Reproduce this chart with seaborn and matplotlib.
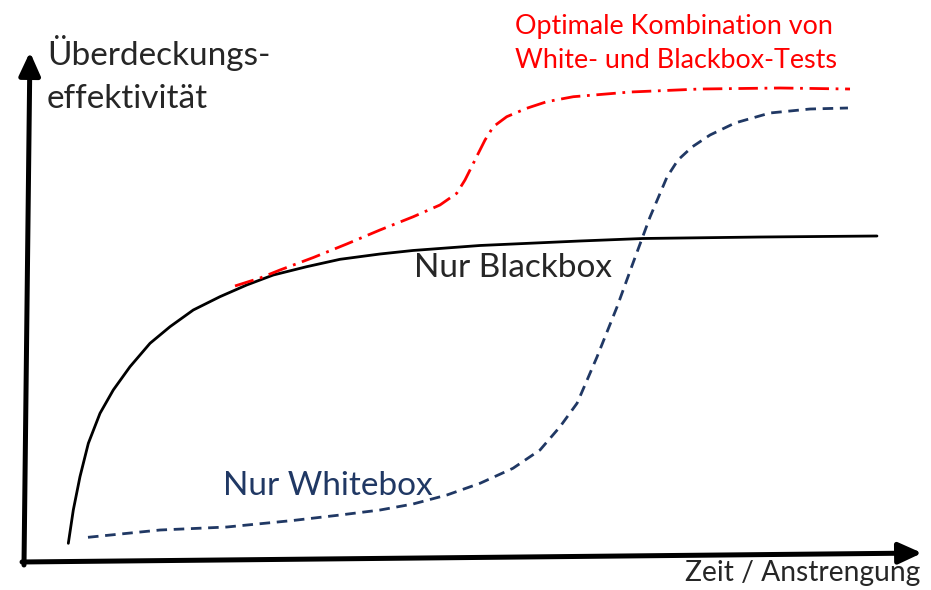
import matplotlib
matplotlib.use("Agg")
import matplotlib.pyplot as plt
import seaborn as sns

sns.set_style("white")
plt.rcParams["font.family"] = ["Lato", "DejaVu Sans"]

# effort (0-100) vs. coverage effectiveness (0-100)
blackbox_x = [4.53, 5.09, 5.84, 6.78, 8.09, 9.58, 11.46, 13.71, 15.96, 18.57, 21.57, 24.57,
              27.56, 31.31, 35.06, 39.55, 43.26, 50.79, 62.02, 69.10, 82.25, 95.39]
blackbox_y = [3.27, 9.80, 16.33, 22.88, 28.76, 33.33, 37.90, 42.49, 45.75, 49.02, 51.63, 53.92,
              55.88, 57.51, 58.96, 60.00, 60.69, 61.67, 62.55, 63.04, 63.33, 63.53]

combined_x = [23.26, 26.07, 28.31, 32.06, 35.81, 39.55, 43.29, 46.29, 48.17, 49.10, 49.85, 50.60,
              51.35, 52.28, 53.79, 56.03, 58.28, 61.27, 67.64, 75.51, 84.49, 92.36]
combined_y = [53.73, 55.29, 56.86, 59.31, 61.96, 64.71, 67.31, 69.61, 71.90, 74.51, 77.12, 79.75,
              82.35, 84.96, 86.92, 88.57, 89.86, 90.84, 91.76, 92.35, 92.55, 92.35]

whitebox_x = [6.74, 14.83, 22.36, 29.78, 35.06, 39.55, 43.26, 47.08, 50.79, 54.49, 57.53, 59.78,
              61.69, 62.58, 63.93, 66.18, 67.98, 69.89, 71.80, 73.03, 74.61, 76.63, 79.44, 83.37,
              87.87, 92.13]
whitebox_y = [4.45, 5.88, 6.47, 7.75, 8.82, 9.80, 10.98, 12.75, 15.04, 17.98, 21.57, 26.14,
              30.73, 34.31, 39.80, 49.61, 58.24, 67.25, 75.10, 78.43, 80.98, 83.33, 85.69, 87.65,
              88.43, 88.63]

RED = "#ff0000"
NAVY = "#203864"

fig = plt.figure(figsize=(9.31, 5.90), dpi=100)
ax = fig.add_axes([0, 0, 1, 1])
ax.set_xlim(-28 / 8.9, 903 / 8.9)
ax.set_ylim(-30 / 5.1, 560 / 5.1)
ax.axis("off")

sns.lineplot(x=blackbox_x, y=blackbox_y, ax=ax, color="black", linewidth=2.0, sort=False)
sns.lineplot(x=combined_x, y=combined_y, ax=ax, color=RED, linewidth=2.0, sort=False,
             linestyle=(0, (7, 2.4, 1.0, 2.4)))
sns.lineplot(x=whitebox_x, y=whitebox_y, ax=ax, color=NAVY, linewidth=2.0, sort=False,
             linestyle=(0, (3.8, 2.4)))

# axis arrows
arrow = dict(arrowstyle="-|>,head_length=0.7,head_width=0.32", color="black", lw=3.6,
             shrinkA=0, shrinkB=0, mutation_scale=20)
ax.annotate("", xy=(0.22, 99.6), xytext=(-0.45, -0.98), arrowprops=arrow)
ax.annotate("", xy=(100.45, 1.37), xytext=(-0.67, -0.39), arrowprops=arrow)

ax.text(2.13, 97.1, "Überdeckungs-", fontsize=24, va="baseline", ha="left")
ax.text(2.13, 88.6, "effektivität", fontsize=24, va="baseline", ha="left")
ax.text(54.7, 103.1, "Optimale Kombination von", fontsize=19.4, color=RED, va="baseline", ha="left")
ax.text(54.7, 96.5, "White- und Blackbox-Tests", fontsize=19.4, color=RED, va="baseline", ha="left")
ax.text(43.4, 55.5, "Nur Blackbox", fontsize=24, va="baseline", ha="left")
ax.text(21.9, 12.7, "Nur Whitebox", fontsize=24, color=NAVY, va="baseline", ha="left")
ax.text(100.2, -4.1, "Zeit / Anstrengung", fontsize=20.3, va="baseline", ha="right")

fig.savefig("out.png", dpi=100)
